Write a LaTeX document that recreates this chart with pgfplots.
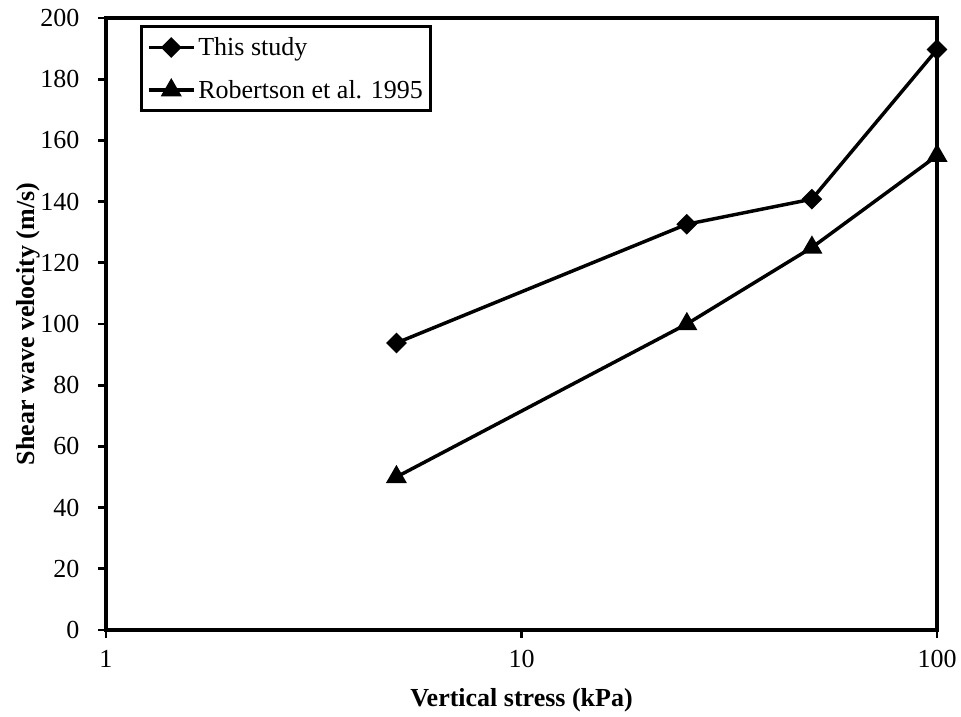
\documentclass[border=0pt]{standalone}
\usepackage{fontspec}
\setmainfont{Liberation Serif}
\usepackage{pgfplots}
\pgfplotsset{compat=1.18}

\begin{document}
\begin{tikzpicture}
\begin{axis}[
  scale only axis,
  width=623.25pt, height=459pt,
  xmode=log, log basis x=10,
  xmin=1, xmax=100, ymin=0, ymax=200,
  ytick={0,20,...,200},
  xtick={1,10,100},
  xticklabels={1,10,100},
  minor xtick={},
  xtick pos=bottom, ytick pos=left,
  /pgf/number format/assume math mode=true,
  tick align=outside,
  major tick length=6pt,
  tick style={line width=2.2pt, black},
  axis line style={line width=2.8pt},
  ticklabel style={font=\fontsize{19.5}{22}\selectfont},
  xticklabel style={yshift=-6pt},
  yticklabel style={xshift=-10.5pt},
  xlabel={\textbf{Vertical stress (kPa)}},
  ylabel={\textbf{Shear wave velocity (m/s)}},
  label style={font=\fontsize{19.5}{22}\selectfont},
  xlabel style={yshift=-8.5pt},
  ylabel style={yshift=-6.5pt},
  legend style={at={(0.041,0.988)}, anchor=north west, draw=black,
    line width=2.2pt, font=\fontsize{19.5}{22}\selectfont,
    inner xsep=4pt, inner ysep=6pt, row sep=13pt},
  legend cell align=left,
  legend image code/.code={%
    \draw[#1, line width=2.6pt, mark repeat=2, mark phase=2]
      plot coordinates {(0pt,0pt) (17pt,0pt) (34pt,0pt)};},
]
\addplot[black, line width=2.6pt, mark=square*, mark size=4.2pt,
  mark options={rotate=45, solid}]
  coordinates {(5,93.8) (25,132.6) (50,140.8) (100,189.7)};
\addlegendentry{This study}
\addplot[black, line width=2.6pt, mark=triangle*, mark size=6.5pt,
  mark options={solid}]
  coordinates {(5,50) (25,100) (50,125) (100,155)};
\addlegendentry{Robertson et al. 1995}
\end{axis}
\path[use as bounding box]
  ([xshift=-79.5pt,yshift=-63.75pt]current axis.south west)
  rectangle ([xshift=18pt,yshift=13.5pt]current axis.north east);
\end{tikzpicture}
\end{document}
